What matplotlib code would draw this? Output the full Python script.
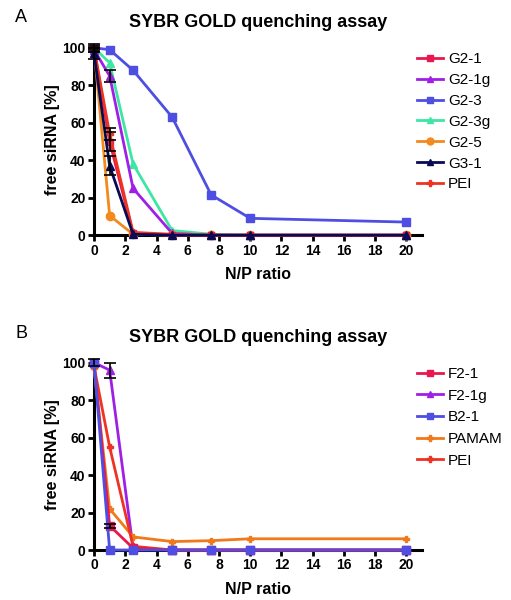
import matplotlib
matplotlib.use("Agg")
import matplotlib.pyplot as plt
from matplotlib.lines import Line2D

plt.rcParams['font.family'] = ['Liberation Sans', 'DejaVu Sans']

nan = float("nan")
np_ratio = [0, 1, 2.5, 5, 7.5, 10, 20]
x_ticks = [0, 2, 4, 6, 8, 10, 12, 14, 16, 18, 20]
y_ticks = [0, 20, 40, 60, 80, 100]

# Panel A
a_names = ["G2-1", "G2-1g", "G2-3", "G2-3g", "G2-5", "G3-1", "PEI"]
a_g21 = [100, 50, 1, 0, 0, 0, 0]
a_g21g = [99, 85, 25, 1, 0, 0, 0]
a_g23 = [100, 99, 88, 63, 21.5, 9, 7]
a_g23g = [100, 92, 38, 2.5, 0.5, 0, 0]
a_g25 = [100, 10.5, 0.5, 0, 0, 0, 0]
a_g31 = [97, 37, 0.5, 0, 0, 0, 0]
a_pei = [100, 54, 1.5, 0.5, 0, 0, 0]
a_err_g21 = [2, 5, nan, nan, nan, nan, nan]
a_err_g21g = [1, 3, nan, nan, nan, nan, nan]
a_err_g31 = [3, 5, nan, nan, nan, nan, nan]
a_err_pei = [1, 3, nan, nan, nan, nan, nan]

# Panel B
b_names = ["F2-1", "F2-1g", "B2-1", "PAMAM", "PEI"]
b_f21 = [100, 13, 1, 0, 0, 0, 0]
b_f21g = [100, 96, 1, 0, 0, 0, 0]
b_b21 = [100, 0, 0, 0, 0, 0, 0]
b_pamam = [97, 22, 7, 4.5, 5, 6, 6]
b_pei = [98, 55, 2, 0, 0, 0, 0]
b_err_f21g = [nan, 4, nan, nan, nan, nan, nan]
b_err_f21 = [2, 1, nan, nan, nan, nan, nan]

C_CRIMSON = "#E8174F"
C_PURPLE = "#A01FE6"
C_BLUE = "#4E4EE3"
C_AQUA = "#3DE6A3"
C_ORANGE = "#F28A1E"
C_NAVY = "#0B0B55"
C_RED = "#EE3322"
C_PAMAM = "#F07A1A"

fig = plt.figure(figsize=(5.11, 6.0), dpi=100)

def style_axes(ax):
    ax.set_xlim(0, 21)
    ax.set_ylim(0, 101.5)
    ax.set_xticks(x_ticks)
    ax.set_yticks(y_ticks)
    for s in ["top", "right"]:
        ax.spines[s].set_visible(False)
    for s in ["left", "bottom"]:
        ax.spines[s].set_linewidth(2.2)
    ax.tick_params(width=2.0, length=4, direction="out", labelsize=10, pad=2)
    for lab in ax.get_xticklabels() + ax.get_yticklabels():
        lab.set_fontweight("bold")
    ax.set_xlabel("N/P ratio", fontsize=11.5, fontweight="bold", labelpad=7)
    ax.set_ylabel("free siRNA [%]", fontsize=11.5, fontweight="bold", labelpad=2)
    ax.set_title("SYBR GOLD quenching assay", fontsize=13, fontweight="bold", pad=13)

def plot_series(ax, y, color, marker, ms, label, err=None):
    ax.plot(np_ratio, y, color=color, marker=marker, markersize=ms, lw=2.0,
            label=label, clip_on=False, zorder=3)
    if err is not None:
        ax.errorbar(np_ratio, y, yerr=err, fmt="none", ecolor="black",
                    elinewidth=1.2, capsize=4, capthick=1.2, zorder=4, clip_on=False)

axA = fig.add_axes([0.184, 0.608, 0.642, 0.317])
plot_series(axA, a_g23, C_BLUE, "s", 6, a_names[2])
plot_series(axA, a_g23g, C_AQUA, "^", 6, a_names[3])
plot_series(axA, a_g21g, C_PURPLE, "^", 6, a_names[1], a_err_g21g)
plot_series(axA, a_g25, C_ORANGE, "o", 6, a_names[4])
plot_series(axA, a_g21, C_CRIMSON, "s", 5, a_names[0], a_err_g21)
plot_series(axA, a_pei, C_RED, "P", 4, a_names[6], a_err_pei)
plot_series(axA, a_g31, C_NAVY, "^", 6, a_names[5], a_err_g31)
style_axes(axA)
handles = [Line2D([], [], color=C_CRIMSON, marker="s", ms=5, lw=2.0),
           Line2D([], [], color=C_PURPLE, marker="^", ms=5, lw=2.0),
           Line2D([], [], color=C_BLUE, marker="s", ms=5, lw=2.0),
           Line2D([], [], color=C_AQUA, marker="^", ms=5, lw=2.0),
           Line2D([], [], color=C_ORANGE, marker="o", ms=5, lw=2.0),
           Line2D([], [], color=C_NAVY, marker="^", ms=5, lw=2.0),
           Line2D([], [], color=C_RED, marker="P", ms=4, lw=2.0)]
fig.legend(handles, a_names, loc="upper left", bbox_to_anchor=(0.817, 0.913),
           frameon=False, fontsize=11, handlelength=1.7, handletextpad=0.3,
           labelspacing=0.45, borderpad=0, borderaxespad=0)
fig.text(0.03, 0.97, "A", fontsize=13, va="center", ha="left")

axB = fig.add_axes([0.184, 0.0833, 0.642, 0.317])
plot_series(axB, b_f21g, C_PURPLE, "^", 6, b_names[1], b_err_f21g)
plot_series(axB, b_pamam, C_PAMAM, "P", 4, b_names[3])
plot_series(axB, b_pei, C_RED, "P", 4, b_names[4])
plot_series(axB, b_f21, C_CRIMSON, "s", 6, b_names[0], b_err_f21)
plot_series(axB, b_b21, C_BLUE, "s", 6, b_names[2])
style_axes(axB)
handlesB = [Line2D([], [], color=C_CRIMSON, marker="s", ms=5, lw=2.0),
            Line2D([], [], color=C_PURPLE, marker="^", ms=5, lw=2.0),
            Line2D([], [], color=C_BLUE, marker="s", ms=5, lw=2.0),
            Line2D([], [], color=C_PAMAM, marker="P", ms=4, lw=2.0),
            Line2D([], [], color=C_RED, marker="P", ms=4, lw=2.0)]
fig.legend(handlesB, b_names, loc="upper left", bbox_to_anchor=(0.817, 0.388),
           frameon=False, fontsize=11, handlelength=1.7, handletextpad=0.3,
           labelspacing=0.5, borderpad=0, borderaxespad=0)
fig.text(0.03, 0.445, "B", fontsize=13, va="center", ha="left")

fig.savefig("out.png", dpi=100)
